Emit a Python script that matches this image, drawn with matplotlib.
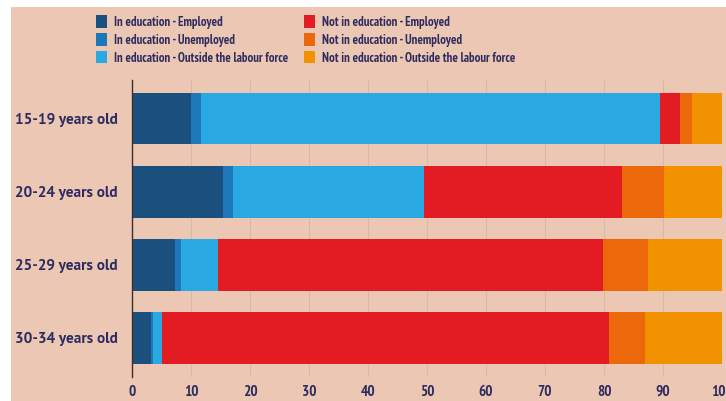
import matplotlib
matplotlib.use("Agg")
import matplotlib.pyplot as plt
from matplotlib.patches import Rectangle

# Shares of young people (%) by education and labour status
age_groups = ["15-19 years old", "20-24 years old", "25-29 years old", "30-34 years old"]
series_names = [
    "In education - Employed",
    "In education - Unemployed",
    "In education - Outside the labour force",
    "Not in education - Employed",
    "Not in education - Unemployed",
    "Not in education - Outside the labour force",
]
in_edu_employed = [10.0, 15.4, 7.3, 3.2]
in_edu_unemployed = [1.7, 1.8, 1.0, 0.4]
in_edu_outside = [77.8, 32.3, 6.2, 1.4]
not_edu_employed = [3.4, 33.5, 65.4, 75.9]
not_edu_unemployed = [2.0, 7.1, 7.5, 6.0]
not_edu_outside = [5.1, 9.9, 12.6, 13.1]
x_ticks = [0, 10, 20, 30, 40, 50, 60, 70, 80, 90, 100]

series = [in_edu_employed, in_edu_unemployed, in_edu_outside,
          not_edu_employed, not_edu_unemployed, not_edu_outside]
colors = ["#1a4f7e", "#1d78b9", "#2aa8e1", "#e31b22", "#eb690b", "#f29200"]
bg = "#ecc8b4"
navy = "#2d2b5f"
narrow = ["PT Sans Narrow", "Archivo Narrow", "DejaVu Sans"]
regular = ["PT Sans", "Open Sans", "DejaVu Sans"]

fig = plt.figure(figsize=(7.26, 4.01), dpi=100, facecolor="white")
fig.patches.append(Rectangle((11 / 726, 0), 1, 1 - 7 / 401, transform=fig.transFigure,
                             facecolor=bg, edgecolor="none", zorder=-10))

ax = fig.add_axes([132 / 726, 1 - 377 / 401, 590 / 726, 297 / 401])
ax.set_facecolor("none")

left = [0.0] * len(age_groups)
handles = []
for name, vals, col in zip(series_names, series, colors):
    h = ax.barh(range(len(age_groups)), vals, left=left, height=0.71,
                color=col, edgecolor="none", label=name, zorder=3)
    handles.append(h)
    left = [a + b for a, b in zip(left, vals)]

ax.set_xlim(0, 100)
ax.set_ylim(3.533, -0.526)
ax.set_xticks(x_ticks)
ax.set_xticklabels([str(t) for t in x_ticks])
ax.set_yticks(range(len(age_groups)))
ax.set_yticklabels(age_groups)
ax.tick_params(axis="both", length=0, colors=navy)
ax.tick_params(axis="x", pad=5.5)
ax.tick_params(axis="y", pad=10)
for lab in ax.get_xticklabels():
    lab.set_fontfamily(narrow)
    lab.set_fontweight("bold")
    lab.set_fontsize(11)
for lab in ax.get_yticklabels():
    lab.set_fontfamily(regular)
    lab.set_fontweight("bold")
    lab.set_fontsize(11)

ax.grid(axis="x", color="#d5b9a9", linewidth=0.8, zorder=0)
for s in ["top", "right", "bottom"]:
    ax.spines[s].set_visible(False)
ax.spines["left"].set_color("#3a3030")
ax.spines["left"].set_linewidth(1.0)
ax.spines["left"].set_zorder(4)

leg = fig.legend(handles=handles, ncol=2, loc="upper left",
                 bbox_to_anchor=(96 / 726, 1 - 15.5 / 401), frameon=False,
                 borderpad=0, borderaxespad=0,
                 prop={"family": narrow, "weight": "bold", "size": 9.2},
                 handlelength=0.86, handleheight=1.1, handletextpad=0.55,
                 labelspacing=0.34, columnspacing=1.25)
for t in leg.get_texts():
    t.set_color(navy)

fig.savefig("out.png", dpi=100, facecolor="white")
